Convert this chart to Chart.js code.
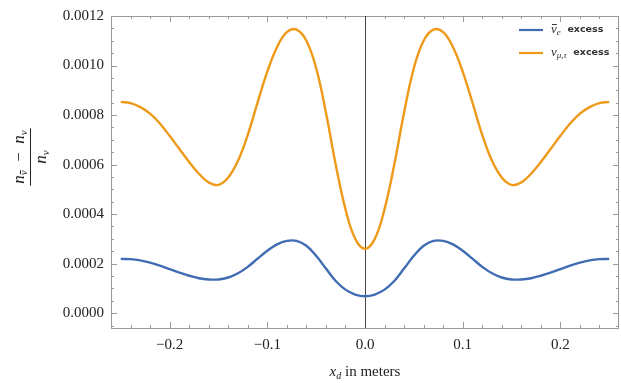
<!DOCTYPE html>
<html>
<head>
    <title>Excess chart</title>
    <script src="https://cdn.jsdelivr.net/npm/chart.js"></script>
    <style>
        body {
            margin: 0;
            padding: 0;
            background-color: #fff;
        }
        #wrap {
            width: 621px;
            height: 383px;
        }
    </style>
</head>
<body>

<div id="wrap">
    <canvas id="excessChart" width="621" height="383"></canvas>
</div>

<script>
    // x_d positions (meters)
    const xd = [-0.25, -0.24, -0.23, -0.22, -0.21, -0.20, -0.19, -0.18, -0.17, -0.16,
                -0.15, -0.14, -0.13, -0.12, -0.11, -0.10, -0.09, -0.08, -0.07, -0.06,
                -0.05, -0.04, -0.03, -0.02, -0.01, 0.00, 0.01, 0.02, 0.03, 0.04,
                0.05, 0.06, 0.07, 0.08, 0.09, 0.10, 0.11, 0.12, 0.13, 0.14,
                0.15, 0.16, 0.17, 0.18, 0.19, 0.20, 0.21, 0.22, 0.23, 0.24, 0.25];

    // anti-nu_e excess
    const nuEBar = [0.000219, 0.000218, 0.000213, 0.000204, 0.000192, 0.000178, 0.000164, 0.000151, 0.000141, 0.000136,
                    0.000136, 0.000144, 0.000161, 0.000187, 0.000220, 0.000252, 0.000278, 0.000292, 0.000292, 0.000272,
                    0.000232, 0.000180, 0.000130, 0.000095, 0.000075, 0.000068, 0.000075, 0.000095, 0.000130, 0.000180,
                    0.000232, 0.000272, 0.000292, 0.000292, 0.000278, 0.000252, 0.000220, 0.000187, 0.000161, 0.000144,
                    0.000136, 0.000136, 0.000141, 0.000151, 0.000164, 0.000178, 0.000192, 0.000204, 0.000213, 0.000218, 0.000219];

    // nu_mu,tau excess
    const nuMuTau = [0.000853, 0.000848, 0.000832, 0.000806, 0.000766, 0.000716, 0.000663, 0.000610, 0.000563, 0.000528,
                     0.000518, 0.000548, 0.000615, 0.000720, 0.000850, 0.000975, 0.001075, 0.001135, 0.001145, 0.001100,
                     0.000990, 0.000810, 0.000600, 0.000420, 0.000300, 0.000260, 0.000300, 0.000420, 0.000600, 0.000810,
                     0.000990, 0.001100, 0.001145, 0.001135, 0.001075, 0.000975, 0.000850, 0.000720, 0.000615, 0.000548,
                     0.000518, 0.000528, 0.000563, 0.000610, 0.000663, 0.000716, 0.000766, 0.000806, 0.000832, 0.000848, 0.000853];

    const xTicks = [-0.2, -0.1, 0.0, 0.1, 0.2];
    const yTicks = [0.0000, 0.0002, 0.0004, 0.0006, 0.0008, 0.0010, 0.0012];

    const blue = '#3f6cb3';
    const orange = '#ee9a18';
    const serif = '"Liberation Serif", "DejaVu Serif", serif';

    // minor ticks (axis decoration only)
    const xMinor = [];
    for (let i = -13; i <= 13; i++) xMinor.push(i * 0.02);
    const yMinor = [];
    for (let i = -1; i <= 24; i++) yMinor.push(i * 0.00005);

    function pts(ys) {
        return xd.map((x, i) => ({ x: x, y: ys[i] }));
    }

    // draw text pieces in a row; returns total width
    function runText(ctx, parts, x, y, draw) {
        let w = 0;
        parts.forEach(p => {
            ctx.font = p.f;
            const pw = ctx.measureText(p.t).width;
            if (draw) {
                ctx.fillText(p.t, x + w, y + (p.dy || 0));
                if (p.bar) {
                    ctx.fillRect(x + w + 1, y + (p.dy || 0) - p.bar, pw - 1, 1);
                }
            }
            w += pw;
        });
        return w;
    }

    // frame, inward ticks, zero line and texts
    const framePlugin = {
        id: 'frame',
        beforeDatasetsDraw(chart) {
            const ctx = chart.ctx;
            const a = chart.chartArea;
            const xs = chart.scales.x;
            const ys = chart.scales.y;
            ctx.save();
            ctx.strokeStyle = '#9a9a9a';
            ctx.lineWidth = 1;
            ctx.strokeRect(Math.round(a.left) + 0.5, Math.round(a.top) + 0.5,
                           Math.round(a.right - a.left) - 1, Math.round(a.bottom - a.top));
            ctx.beginPath();
            xMinor.forEach(v => {
                const p = Math.round(xs.getPixelForValue(v)) + 0.5;
                if (p < a.left || p > a.right) return;
                const major = xTicks.some(t => Math.abs(t - v) < 1e-9);
                const len = major ? 6 : 3;
                ctx.moveTo(p, a.bottom); ctx.lineTo(p, a.bottom - len);
                ctx.moveTo(p, a.top); ctx.lineTo(p, a.top + len);
            });
            yMinor.forEach(v => {
                const p = Math.round(ys.getPixelForValue(v)) + 0.5;
                if (p < a.top || p > a.bottom) return;
                const major = yTicks.some(t => Math.abs(t - v) < 1e-9);
                const len = major ? 6 : 3;
                ctx.moveTo(a.left, p); ctx.lineTo(a.left + len, p);
                ctx.moveTo(a.right, p); ctx.lineTo(a.right - len, p);
            });
            ctx.stroke();

            // x = 0 line
            const z = Math.round(xs.getPixelForValue(0)) + 0.5;
            ctx.strokeStyle = '#444';
            ctx.beginPath();
            ctx.moveTo(z, a.top);
            ctx.lineTo(z, a.bottom);
            ctx.stroke();
            ctx.restore();
        },
        afterDraw(chart) {
            const ctx = chart.ctx;
            ctx.save();

            // legend
            const items = [
                { color: blue, sub: 'e', bar: true },
                { color: orange, sub: 'μ,τ', bar: false }
            ];
            items.forEach((it, i) => {
                const y = 30 + i * 23;
                ctx.strokeStyle = it.color;
                ctx.lineWidth = 2.2;
                ctx.beginPath();
                ctx.moveTo(519, y);
                ctx.lineTo(543, y);
                ctx.stroke();
                ctx.fillStyle = '#333';
                ctx.textBaseline = 'middle';
                ctx.textAlign = 'left';
                runText(ctx, [
                    { t: 'ν', f: 'italic 13px ' + serif, bar: it.bar ? 6 : 0 },
                    { t: it.sub, f: 'italic 9px ' + serif, dy: 3 },
                    { t: '  excess', f: 'bold 9.5px "DejaVu Sans", sans-serif' }
                ], 551, y, true);
            });

            // x title
            ctx.fillStyle = '#222';
            ctx.textBaseline = 'alphabetic';
            const xParts = [
                { t: 'x', f: 'italic 15px ' + serif },
                { t: 'd', f: 'italic 10px ' + serif, dy: 3 },
                { t: ' in meters', f: '15px ' + serif }
            ];
            const xw = runText(ctx, xParts, 0, 0, false);
            runText(ctx, xParts, chart.scales.x.getPixelForValue(0) - xw / 2, 376, true);

            // y title, a rotated fraction
            ctx.translate(33, 157);
            ctx.rotate(-Math.PI / 2);
            ctx.textAlign = 'left';
            const num = [
                { t: 'n', f: 'italic 17px ' + serif },
                { t: 'ν', f: 'italic 11px ' + serif, dy: 3, bar: 7 },
                { t: '  −  ', f: '17px ' + serif },
                { t: 'n', f: 'italic 17px ' + serif },
                { t: 'ν', f: 'italic 11px ' + serif, dy: 3 }
            ];
            const nw = runText(ctx, num, 0, 0, false);
            runText(ctx, num, -nw / 2, -9, true);
            ctx.fillRect(-nw / 2 - 2, -3, nw + 4, 1);
            const den = [
                { t: 'n', f: 'italic 17px ' + serif },
                { t: 'ν', f: 'italic 11px ' + serif, dy: 3 }
            ];
            const dw = runText(ctx, den, 0, 0, false);
            runText(ctx, den, -dw / 2, 13, true);
            ctx.restore();
        }
    };

    const ctx = document.getElementById('excessChart').getContext('2d');
    const excessChart = new Chart(ctx, {
        type: 'line',
        data: {
            datasets: [{
                label: 'ν̄e excess',
                data: pts(nuEBar),
                borderColor: blue,
                borderWidth: 2.4,
                pointRadius: 0,
                fill: false,
                tension: 0.4
            }, {
                label: 'νμ,τ excess',
                data: pts(nuMuTau),
                borderColor: orange,
                borderWidth: 2.4,
                pointRadius: 0,
                fill: false,
                tension: 0.4
            }]
        },
        options: {
            responsive: false,
            animation: false,
            layout: { padding: { left: 0, right: 2, top: 12, bottom: 0 } },
            plugins: {
                legend: { display: false },
                tooltip: { enabled: false }
            },
            scales: {
                x: {
                    type: 'linear',
                    min: -0.26,
                    max: 0.26,
                    afterBuildTicks: axis => { axis.ticks = xTicks.map(v => ({ value: v })); },
                    afterFit: axis => { axis.height = 55; },
                    grid: { display: false, drawTicks: false },
                    border: { display: false },
                    ticks: {
                        padding: 8,
                        color: '#222',
                        font: { family: serif, size: 15 },
                        maxRotation: 0,
                        callback: v => (v < 0 ? '−' : '') + Math.abs(v).toFixed(1)
                    }
                },
                y: {
                    min: -0.00006,
                    max: 0.0012,
                    afterBuildTicks: axis => { axis.ticks = yTicks.map(v => ({ value: v })); },
                    afterFit: axis => { axis.width = 111; },
                    grid: { display: false, drawTicks: false },
                    border: { display: false },
                    ticks: {
                        padding: 7,
                        color: '#222',
                        font: { family: serif, size: 15 },
                        callback: v => v.toFixed(4)
                    }
                }
            }
        },
        plugins: [framePlugin]
    });
</script>

</body>
</html>
